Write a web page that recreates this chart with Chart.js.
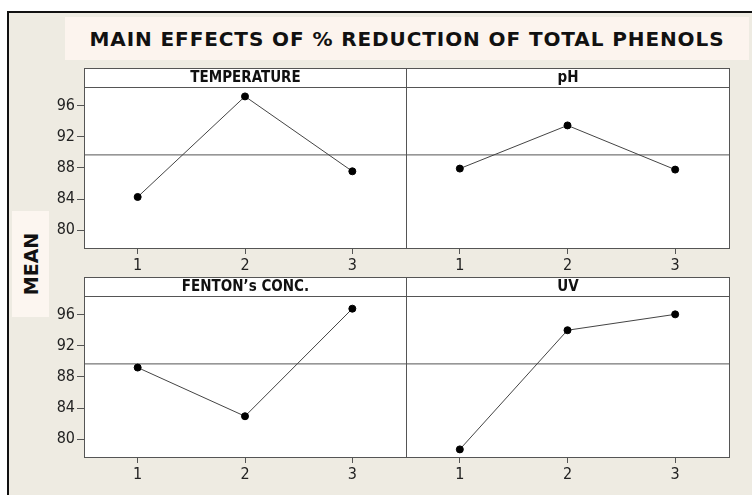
<!DOCTYPE html>
<html>
<head>
<meta charset="utf-8">
<script src="https://cdn.jsdelivr.net/npm/chart.js@4"></script>
<style>
  body { margin: 0; width: 752px; height: 495px; overflow: hidden; background: #ffffff; position: relative; }
  #frame { position: absolute; left: 7px; top: 11px; width: 760px; height: 500px;
    border-left: 2px solid #111; border-top: 2px solid #111; background: #eeebe2; }
  #title { position: absolute; left: 65px; top: 17px; width: 684px; height: 43px; background: #fcf4ee;
    font: bold 20px "DejaVu Sans"; letter-spacing: 0.9px; color: #111; text-align: center; line-height: 45px; }
  #mean { position: absolute; left: 12px; top: 211px; width: 37px; height: 106px; background: #fcf6f0; }
  #mean span { position: absolute; left: 50%; top: 50%; transform: translate(-50%, -50%) rotate(-90deg);
    font: bold 19px "DejaVu Sans"; color: #111; white-space: nowrap; }
  canvas { position: absolute; }
</style>
</head>
<body>
<div id="frame"></div>
<div id="title">MAIN EFFECTS OF % REDUCTION OF TOTAL PHENOLS</div>
<div id="mean"><span>MEAN</span></div>
<canvas id="c1" width="376" height="222" style="left:40px;top:58px"></canvas>
<canvas id="c2" width="344" height="222" style="left:396px;top:58px"></canvas>
<canvas id="c3" width="376" height="222" style="left:40px;top:267px"></canvas>
<canvas id="c4" width="344" height="222" style="left:396px;top:267px"></canvas>
<script>
// data
const levels = [1, 2, 3];
const temperature = [84.26, 97.19, 87.56];
const ph = [87.91, 93.46, 87.78];
const fenton = [89.2, 82.94, 96.77];
const uv = [78.68, 94.0, 96.04];
const grandMean = 89.67;
const yTicks = [80, 84, 88, 92, 96];

// header strip + frame round each panel
const panelFrame = {
  id: "panelFrame",
  beforeDraw(chart, args, opts) {
    const { ctx, chartArea: a } = chart;
    ctx.save();
    ctx.fillStyle = "#ffffff";
    ctx.fillRect(a.left, a.top - 19, a.right - a.left, a.bottom - a.top + 19);
    ctx.restore();
  },
  afterDraw(chart, args, opts) {
    const { ctx, chartArea: a } = chart;
    const l = Math.round(a.left) + 0.5, r = Math.round(a.right) + 0.5;
    const t = Math.round(a.top) + 0.5, b = Math.round(a.bottom) + 0.5;
    ctx.save();
    ctx.strokeStyle = "#555";
    ctx.lineWidth = 1;
    ctx.strokeRect(l, t - 19, r - l, b - t + 19);
    ctx.beginPath();
    ctx.moveTo(l, t);
    ctx.lineTo(r, t);
    ctx.stroke();
    ctx.fillStyle = "#111";
    ctx.font = "bold 15px 'DejaVu Sans Condensed'";
    ctx.textAlign = "center";
    ctx.textBaseline = "middle";
    ctx.fillText(opts.text, (l + r) / 2, t - 9);
    ctx.restore();
  },
};

function makePanel(id, title, values, showY, padLeft, padRight) {
  const chartConfig = {
    type: "line",
    data: {
      datasets: [
        {
          data: levels.map((x, i) => ({ x: x, y: values[i] })),
          borderColor: "#444",
          borderWidth: 1,
          pointRadius: 3.5,
          pointBackgroundColor: "#000",
          pointBorderColor: "#000",
          tension: 0,
        },
        {
          // grand mean reference line
          data: [{ x: 0.5, y: grandMean }, { x: 3.5, y: grandMean }],
          borderColor: "#555",
          borderWidth: 1,
          pointRadius: 0,
        },
      ],
    },
    options: {
      responsive: false,
      animation: false,
      layout: { padding: { top: 29, left: padLeft, right: padRight, bottom: 4 } },
      plugins: {
        legend: { display: false },
        tooltip: { enabled: false },
        panelFrame: { text: title },
      },
      scales: {
        x: {
          type: "linear",
          min: 0.5,
          max: 3.5,
          afterBuildTicks: (s) => { s.ticks = levels.map((v) => ({ value: v })); },
          afterFit: (s) => { s.height = 28; },
          grid: { drawOnChartArea: false, drawTicks: true, tickLength: 6, color: "#555" },
          border: { display: false },
          ticks: { padding: 2, color: "#222", font: { family: "DejaVu Sans Condensed", size: 16 } },
        },
        y: {
          display: showY,
          min: 77.7,
          max: 98.4,
          afterBuildTicks: (s) => { s.ticks = yTicks.map((v) => ({ value: v })); },
          afterFit: (s) => { s.width = showY ? 44 : 0; },
          grid: { drawOnChartArea: false, drawTicks: true, tickLength: 7, color: "#555" },
          border: { display: false },
          ticks: { padding: 2, color: "#222", font: { family: "DejaVu Sans Condensed", size: 16 } },
        },
      },
    },
    plugins: [panelFrame],
  };
  return new Chart(document.getElementById(id), chartConfig);
}

makePanel("c1", "TEMPERATURE", temperature, true, 0, 10);
makePanel("c2", "pH", ph, false, 10, 11);
makePanel("c3", "FENTON\u2019s CONC.", fenton, true, 0, 10);
makePanel("c4", "UV", uv, false, 10, 11);
</script>
</body>
</html>
